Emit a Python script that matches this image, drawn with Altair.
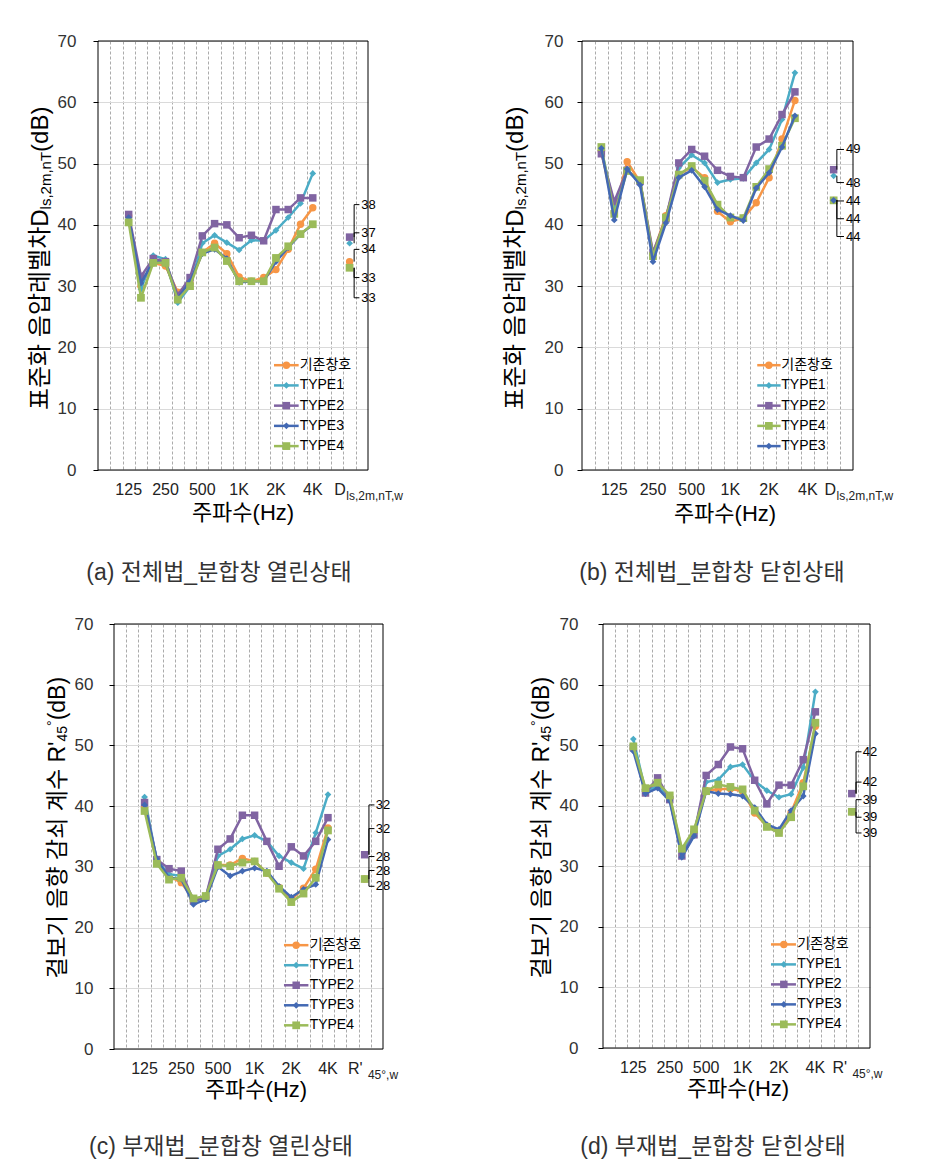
import altair as alt
import pandas as pd

FONT = "Liberation Sans, Noto Sans CJK KR"

SERIES = ["기존창호", "TYPE1", "TYPE2", "TYPE3", "TYPE4"]
COLORS = {"기존창호": "#F79646", "TYPE1": "#4BACC6", "TYPE2": "#8064A2",
          "TYPE3": "#4369B3", "TYPE4": "#9BBB59"}
SHAPES = {"기존창호": "circle", "TYPE1": "diamond", "TYPE2": "square",
          "TYPE3": "diamond", "TYPE4": "square"}
SIZES = {"기존창호": 55, "TYPE1": 45, "TYPE2": 56, "TYPE3": 45, "TYPE4": 60}

TICK_LABELS = ["125", "250", "500", "1K", "2K", "4K"]
TICK_CATS = [2, 5, 8, 11, 14, 17]
LEG_Y = [17.1, 13.8, 10.5, 7.2, 3.9]

# (a) 전체법_분합창 열린상태 : 125 Hz ~ 4 kHz
A_BASE = [41.5, 30.0, 33.8, 33.3, 29.0, 30.5, 35.5, 37.0, 35.3, 31.5, 30.8, 31.4, 32.7, 36.0, 40.1, 42.8]
A_T1 = [41.0, 29.5, 35.0, 34.4, 27.3, 30.0, 37.0, 38.3, 37.1, 35.9, 37.5, 37.4, 39.1, 41.2, 43.5, 48.4]
A_T2 = [41.7, 31.6, 34.5, 34.0, 28.5, 31.4, 38.2, 40.2, 40.0, 37.9, 38.3, 37.4, 42.5, 42.5, 44.4, 44.4]
A_T3 = [41.2, 30.5, 34.0, 33.8, 28.0, 30.8, 35.3, 36.0, 34.5, 30.6, 30.8, 30.8, 34.0, 36.3, 38.5, 40.0]
A_T4 = [40.4, 28.1, 33.8, 33.8, 27.8, 30.0, 35.5, 36.3, 34.1, 30.8, 30.8, 30.8, 34.6, 36.5, 38.5, 40.1]
A_RATING = [34, 37, 38, 33, 33]

# (b) 전체법_분합창 닫힌상태
B_BASE = [52.0, 42.0, 50.3, 47.0, 35.3, 41.5, 48.2, 49.4, 47.7, 42.2, 40.5, 41.1, 43.6, 47.7, 54.0, 60.3]
B_T1 = [52.3, 43.0, 48.8, 47.0, 34.6, 41.0, 49.3, 51.4, 50.1, 46.9, 47.4, 47.6, 50.1, 52.3, 57.2, 64.8]
B_T2 = [51.6, 43.8, 48.9, 47.1, 35.5, 41.0, 50.1, 52.3, 51.2, 48.9, 47.9, 47.7, 52.7, 54.0, 58.0, 61.7]
B_T3 = [52.5, 40.8, 49.1, 46.5, 34.0, 40.3, 47.7, 48.9, 46.2, 42.5, 41.5, 40.7, 46.0, 48.5, 52.7, 57.8]
B_T4 = [52.7, 41.8, 48.8, 47.3, 34.9, 41.2, 48.2, 49.6, 47.2, 43.3, 41.2, 41.1, 46.2, 49.1, 52.9, 57.4]
B_RATING = [44, 48, 49, 44, 44]

# (c) 부재법_분합창 열린상태
C_BASE = [39.8, 30.8, 28.5, 27.4, 24.6, 25.0, 30.3, 30.3, 31.4, 30.9, 29.0, 26.6, 24.6, 26.5, 29.6, 36.4]
C_T1 = [41.5, 31.0, 28.8, 28.5, 24.3, 25.0, 31.8, 32.9, 34.6, 35.2, 34.2, 31.8, 30.7, 29.7, 35.6, 41.9]
C_T2 = [40.6, 31.2, 29.7, 29.3, 24.4, 25.0, 32.9, 34.6, 38.5, 38.5, 34.2, 30.1, 33.3, 31.8, 34.2, 38.1]
C_T3 = [40.2, 31.3, 28.2, 28.0, 23.8, 24.6, 30.0, 28.5, 29.3, 29.8, 29.3, 26.8, 25.0, 26.3, 27.1, 34.5]
C_T4 = [39.2, 30.5, 27.9, 28.2, 24.8, 25.2, 30.3, 30.1, 30.7, 30.9, 29.0, 26.4, 24.2, 25.6, 28.2, 36.0]
C_RATING = [28, 32, 32, 28, 28]

# (d) 부재법_분합창 닫힌상태
D_BASE = [49.5, 42.7, 43.6, 41.3, 32.7, 35.8, 42.5, 42.7, 42.8, 42.4, 38.8, 36.6, 35.6, 38.9, 43.8, 53.1]
D_T1 = [51.0, 42.4, 43.2, 41.2, 32.3, 35.4, 43.9, 44.3, 46.4, 46.8, 44.1, 42.5, 41.4, 41.9, 46.3, 58.8]
D_T2 = [49.6, 42.1, 44.6, 41.0, 31.7, 35.2, 45.0, 46.8, 49.7, 49.4, 44.2, 40.3, 43.4, 43.4, 47.6, 55.5]
D_T3 = [49.0, 42.0, 42.9, 40.8, 31.5, 35.0, 42.4, 42.0, 41.9, 41.6, 39.7, 36.9, 36.1, 39.2, 41.6, 51.9]
D_T4 = [49.8, 42.9, 43.8, 41.7, 32.9, 36.1, 42.4, 43.5, 43.1, 42.7, 39.2, 36.5, 35.5, 38.1, 43.2, 53.7]
D_RATING = [39, 42, 42, 39, 39]

ARIAL = {' ': 0.278, 'D': 0.722, '(': 0.333, ')': 0.333, 'd': 0.556, 'B': 0.667,
         'l': 0.222, 's': 0.5, ',': 0.278, '2': 0.556, 'm': 0.833, 'n': 0.556,
         'T': 0.611, 'R': 0.722, "'": 0.191, '4': 0.556, '5': 0.556, '°': 0.4,
         'w': 0.722}


def tw(text, fs):
    w = 0.0
    for ch in text:
        if ord(ch) >= 0xAC00:
            w += 1.0
        else:
            w += ARIAL.get(ch, 0.55)
    return w * fs


def panel(cfg):
    W, H, n = cfg["W"], cfg["H"], cfg["ncat"]
    xs = alt.Scale(domain=[0, n], nice=False, zero=False)
    ys = alt.Scale(domain=[0, 70], nice=False, zero=True)
    xaxis = alt.Axis(values=list(range(1, n)), grid=True, gridDash=[3, 2],
                     gridColor="#ababab", gridWidth=1, labels=False, ticks=False,
                     domain=False, title=None)
    yaxis = alt.Axis(values=list(range(0, 71, 10)), grid=True, gridColor="#dadada",
                     labelFont=FONT, labelFontSize=17, labelColor="#333333",
                     tickSize=5, tickColor="#000000", labelPadding=cfg["lpad"],
                     domain=False, title=None)
    X = alt.X("x:Q", scale=xs, axis=xaxis)
    Y = alt.Y("y:Q", scale=ys, axis=yaxis)
    one = pd.DataFrame({"k": [0]})
    layers = []
    if cfg.get("anchor"):
        ax, ay = cfg["anchor"]
        layers.append(alt.Chart(one).mark_rule(color="#ffffff", strokeWidth=1).encode(
            x=alt.value(ax), x2=alt.value(ax + 1), y=alt.value(ay), y2=alt.value(ay)))
    # plot frame
    layers.append(alt.Chart(one).mark_rect(filled=False, stroke="#000000", strokeWidth=1)
                  .encode(x=alt.value(0), x2=alt.value(W), y=alt.value(0), y2=alt.value(H)))

    lx0, lx1, lxm, ltx = cfg["legend"]
    data = dict(zip(SERIES, cfg["data"]))
    rating = dict(zip(SERIES, cfg["rating"]))
    for k, s in enumerate(cfg["order"]):
        vals = data[s]
        xm = [cfg["first"] + i + 0.5 for i in range(len(vals))]
        ly = LEG_Y[k]
        line_df = pd.DataFrame({"x": xm + [lx0, lx1], "y": vals + [ly, ly],
                                "g": ["m"] * len(vals) + ["l", "l"]})
        pt_df = pd.DataFrame({"x": xm + [lxm, cfg["rcat"] + 0.5],
                              "y": vals + [ly, rating[s]]})
        layers.append(alt.Chart(line_df).mark_line(color=COLORS[s], strokeWidth=2.5)
                      .encode(X, Y, detail="g:N"))
        layers.append(alt.Chart(pt_df).mark_point(filled=True, opacity=1, shape=SHAPES[s],
                                                  size=SIZES[s], color=COLORS[s])
                      .encode(X, Y))

    leg_df = pd.DataFrame({"x": [ltx] * 5, "y": LEG_Y, "t": cfg["order"]})
    layers.append(alt.Chart(leg_df).mark_text(align="left", baseline="middle", font=FONT,
                                              fontSize=14, color="#000000")
                  .encode(X, Y, text="t:N"))

    xv, xl, xlab = cfg["leader_x"]
    rows, lab = [], []
    for j, (s, lyv) in enumerate(cfg["leaders"]):
        rv = rating[s]
        rows += [{"x": xv, "y": rv, "id": j, "o": 0},
                 {"x": xv, "y": lyv, "id": j, "o": 1},
                 {"x": xl, "y": lyv, "id": j, "o": 2}]
        lab.append({"x": xlab, "y": lyv, "t": str(rv)})
    layers.append(alt.Chart(pd.DataFrame(rows)).mark_line(color="#000000", strokeWidth=1)
                  .encode(X, Y, detail="id:N", order="o:Q"))
    layers.append(alt.Chart(pd.DataFrame(lab)).mark_text(align="left", baseline="middle",
                                                         font=FONT, fontSize=13, color="#000000")
                  .encode(X, Y, text="t:N"))

    tick_df = pd.DataFrame({"x": [c + 0.5 for c in TICK_CATS], "t": TICK_LABELS})
    layers.append(alt.Chart(tick_df).mark_text(align="center", baseline="middle", font=FONT,
                                               fontSize=16, color="#222222")
                  .encode(x=X, y=alt.value(H + 20), text="t:N"))
    rx, rmain, rsub, rdx = cfg["rlabel"]
    rl_df = pd.DataFrame({"x": [rx], "t": [rmain]})
    rs_df = pd.DataFrame({"x": [rx], "t": [rsub]})
    layers.append(alt.Chart(rl_df).mark_text(align="left", baseline="middle", font=FONT,
                                             fontSize=16, color="#222222")
                  .encode(x=X, y=alt.value(H + 20), text="t:N"))
    layers.append(alt.Chart(rs_df).mark_text(align="left", baseline="middle", font=FONT,
                                             fontSize=12, color="#222222", dx=rdx)
                  .encode(x=X, y=alt.value(H + 26), text="t:N"))

    # rotated y title built from pieces (main / subscript / superscript / tail), centred
    cx, ctr, pieces = cfg["ytitle"]
    total = sum(tw(t, fs) for t, fs, sh in pieces)
    top = ctr - total / 2
    total_after = sum(tw(t, fs) for t, fs, sh in pieces[1:])
    j1 = top + total_after
    t0, fs0, sh0 = pieces[0]
    layers.append(alt.Chart(one).mark_text(angle=270, align="right", baseline="middle",
                                           font=FONT, fontSize=fs0, color="#000000")
                  .encode(x=alt.value(cx + sh0), y=alt.value(j1), text=alt.value(t0)))
    pos = j1
    for t, fs, sh in pieces[1:]:
        layers.append(alt.Chart(one).mark_text(angle=270, align="left", baseline="middle",
                                               font=FONT, fontSize=fs, color="#000000")
                      .encode(x=alt.value(cx + sh), y=alt.value(pos), text=alt.value(t)))
        pos -= tw(t, fs)

    tx, ty = cfg["xtitle"]
    layers.append(alt.Chart(one).mark_text(align="center", baseline="middle", font=FONT,
                                           fontSize=22, color="#000000")
                  .encode(x=alt.value(tx), y=alt.value(ty), text=alt.value("주파수(Hz)")))
    capx, capy, cap = cfg["caption"]
    layers.append(alt.Chart(one).mark_text(align="center", baseline="middle", font=FONT,
                                           fontSize=23, color="#333333")
                  .encode(x=alt.value(capx), y=alt.value(capy), text=alt.value(cap)))
    return alt.layer(*layers).properties(width=W, height=H)


ORDER1 = ["기존창호", "TYPE1", "TYPE2", "TYPE3", "TYPE4"]
ORDER2 = ["기존창호", "TYPE1", "TYPE2", "TYPE4", "TYPE3"]
TITLE_D = [("표준화 음압레벨차D", 24, 0), ("ls,2m,nT", 15, 5), ("(dB)", 24, 0)]
TITLE_R = [("걸보기 음향 감쇠 계수 R'", 23, 0), ("45", 14, 5), ("°", 14, -5), ("(dB)", 23, 0)]

pa = panel(dict(W=270, H=429, ncat=22, first=2, rcat=20, order=ORDER1,
                data=[A_BASE, A_T1, A_T2, A_T3, A_T4], rating=A_RATING,
                legend=(14.34, 16.35, 15.35, 16.43), leader_x=(20.87, 21.3, 21.45),
                leaders=[("TYPE2", 43.3), ("TYPE1", 38.7), ("기존창호", 36.0),
                         ("TYPE4", 31.4), ("TYPE3", 28.1)],
                rlabel=(19.25, "D", "ls,2m,nT,w", 12), lpad=17,
                ytitle=(-57, 225, TITLE_D), xtitle=(145, 472),
                caption=(121, 532, "(a) 전체법_분합창 열린상태"),
                anchor=(-89, -32)))
pb = panel(dict(W=271, H=429, ncat=21, first=1, rcat=19, order=ORDER2,
                data=[B_BASE, B_T1, B_T2, B_T3, B_T4], rating=B_RATING,
                legend=(13.58, 15.39, 14.48, 15.44), leader_x=(19.75, 20.3, 20.45),
                leaders=[("TYPE2", 52.3), ("TYPE1", 46.9), ("TYPE4", 43.9),
                         ("기존창호", 41.0), ("TYPE3", 38.1)],
                rlabel=(18.8, "D", "ls,2m,nT,w", 12), lpad=14,
                ytitle=(-66, 225, TITLE_D), xtitle=(143, 473),
                caption=(130, 532, "(b) 전체법_분합창 닫힌상태")))
pc = panel(dict(W=269, H=425, ncat=22, first=2, rcat=20, order=ORDER1,
                data=[C_BASE, C_T1, C_T2, C_T3, C_T4], rating=C_RATING,
                legend=(13.9, 15.9, 14.9, 16.0), leader_x=(20.85, 21.3, 21.4),
                leaders=[("TYPE2", 40.2), ("TYPE1", 36.3), ("기존창호", 31.7),
                         ("TYPE4", 29.4), ("TYPE3", 26.8)],
                rlabel=(19.13, "R'", "45°,w", 20), lpad=16,
                ytitle=(-56, 212, TITLE_R), xtitle=(142, 466),
                caption=(107, 523, "(c) 부재법_분합창 열린상태")))
pd_ = panel(dict(W=267, H=424, ncat=22, first=2, rcat=20, order=ORDER1,
                 data=[D_BASE, D_T1, D_T2, D_T3, D_T4], rating=D_RATING,
                 legend=(13.84, 15.9, 14.9, 16.0), leader_x=(20.85, 21.3, 21.4),
                 leaders=[("TYPE2", 48.9), ("TYPE1", 43.9), ("기존창호", 41.0),
                          ("TYPE4", 38.1), ("TYPE3", 35.5)],
                 rlabel=(18.9, "R'", "45°,w", 20), lpad=20,
                 ytitle=(-61, 212, TITLE_R), xtitle=(135, 465),
                 caption=(110, 523, "(d) 부재법_분합창 닫힌상태")))

one_df = pd.DataFrame({"k": [0]})
spacer = (alt.Chart(one_df).mark_point(opacity=0)
          .encode(x=alt.value(0), y=alt.value(0))
          .properties(width=16, height=1))

row1 = alt.hconcat(pa, pb, spacing=214, bounds="flush")
row2_inner = alt.hconcat(pc, pd_, spacing=220, bounds="flush")
row2 = alt.hconcat(spacer, row2_inner, spacing=0, bounds="flush")
# nested concat rows count as zero height in flush mode: spacing = row height + gap
chart = (alt.vconcat(row1, row2, spacing=583, bounds="flush")
         .properties(padding=0)
         .configure(font=FONT)
         .configure_view(stroke=None))
chart.save("out.html", embed_options={"renderer": "svg", "actions": False})
